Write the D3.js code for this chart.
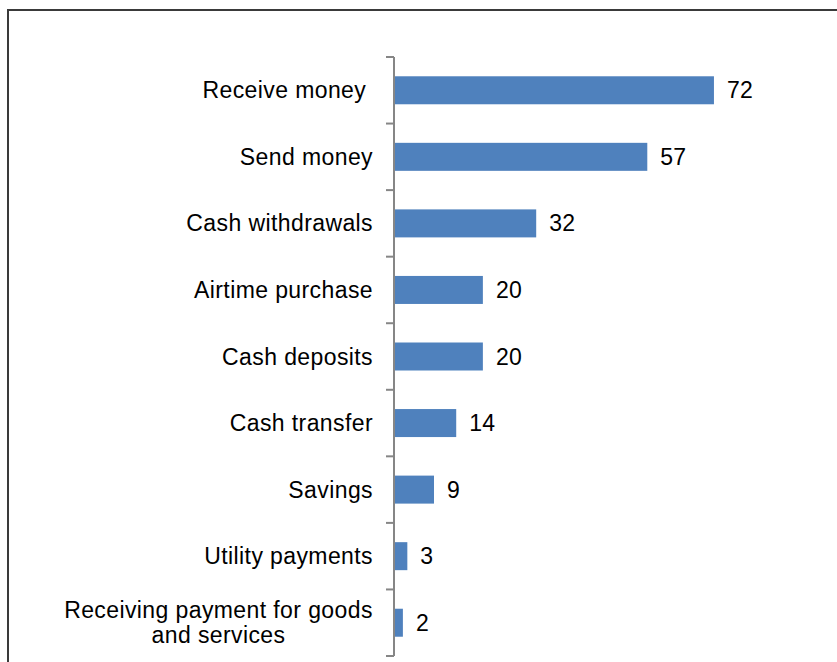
<!DOCTYPE html>
<html>
<head>
<meta charset="utf-8">
<script src="https://cdn.jsdelivr.net/npm/d3@7"></script>
<style>
  html, body { margin: 0; padding: 0; background: #fff; }
  svg { display: block; }
  text { font-family: "Liberation Sans", Arial, sans-serif; fill: #000; }
</style>
</head>
<body>
<svg id="chart" width="837" height="662"></svg>
<script>
// Mobile money usage by service (%)
const categories = [
  "Receive money\u00a0",
  "Send money",
  "Cash withdrawals",
  "Airtime purchase",
  "Cash deposits",
  "Cash transfer",
  "Savings",
  "Utility payments",
  "Receiving payment for goods and services"
];
const values = [72, 57, 32, 20, 20, 14, 9, 3, 2];
// Wrapped lines for long category labels
const labelLines = {
  "Receiving payment for goods and services": ["Receiving payment for goods", "and services"]
};

const svg = d3.select("#chart");
const axisX = 394, plotTop = 57, plotBottom = 656;

// Outer chart frame
svg.append("rect")
  .attr("x", 8).attr("y", 10)
  .attr("width", 900).attr("height", 700)
  .attr("fill", "none")
  .attr("stroke", "#3a3a3a")
  .attr("stroke-width", 2);

const x = d3.scaleLinear().domain([0, 80]).range([axisX, axisX + 355.5]);
const band = d3.scaleBand().domain(categories).range([plotTop, plotBottom]);
const barH = 28;

// Bars
svg.append("g").selectAll("rect")
  .data(categories)
  .join("rect")
  .attr("x", x(0))
  .attr("y", d => band(d) + band.bandwidth() / 2 - barH / 2)
  .attr("width", (d, i) => x(values[i]) - x(0))
  .attr("height", barH)
  .attr("fill", "#4f81bd");

// Value labels
svg.append("g").selectAll("text")
  .data(categories)
  .join("text")
  .attr("x", (d, i) => x(values[i]) + 13)
  .attr("y", d => band(d) + band.bandwidth() / 2)
  .attr("dy", "0.35em")
  .attr("font-size", 23)
  .attr("letter-spacing", 0.3)
  .text((d, i) => values[i]);

// Category axis line and boundary ticks
const axisG = svg.append("g").attr("stroke", "#868686").attr("stroke-width", 2);
axisG.append("line")
  .attr("x1", axisX).attr("x2", axisX)
  .attr("y1", plotTop).attr("y2", plotBottom);
const boundaries = categories.map(d => band(d)).concat([plotBottom]);
axisG.selectAll("line.tick")
  .data(boundaries)
  .join("line")
  .attr("class", "tick")
  .attr("x1", axisX - 8).attr("x2", axisX)
  .attr("y1", d => d).attr("y2", d => d);

// Category labels
const labelG = svg.append("g")
  .attr("font-size", 23)
  .attr("letter-spacing", 0.4);
categories.forEach(c => {
  const cy = band(c) + band.bandwidth() / 2;
  const lines = labelLines[c];
  if (!lines) {
    labelG.append("text")
      .attr("x", 373)
      .attr("y", cy)
      .attr("dy", "0.35em")
      .attr("text-anchor", "end")
      .text(c);
  } else {
    const t = labelG.append("text")
      .attr("text-anchor", "middle");
    lines.forEach((ln, i) => {
      t.append("tspan")
        .attr("x", 218.5)
        .attr("y", cy - 5 + i * 25.5)
        .text(ln);
    });
  }
});
</script>
</body>
</html>
